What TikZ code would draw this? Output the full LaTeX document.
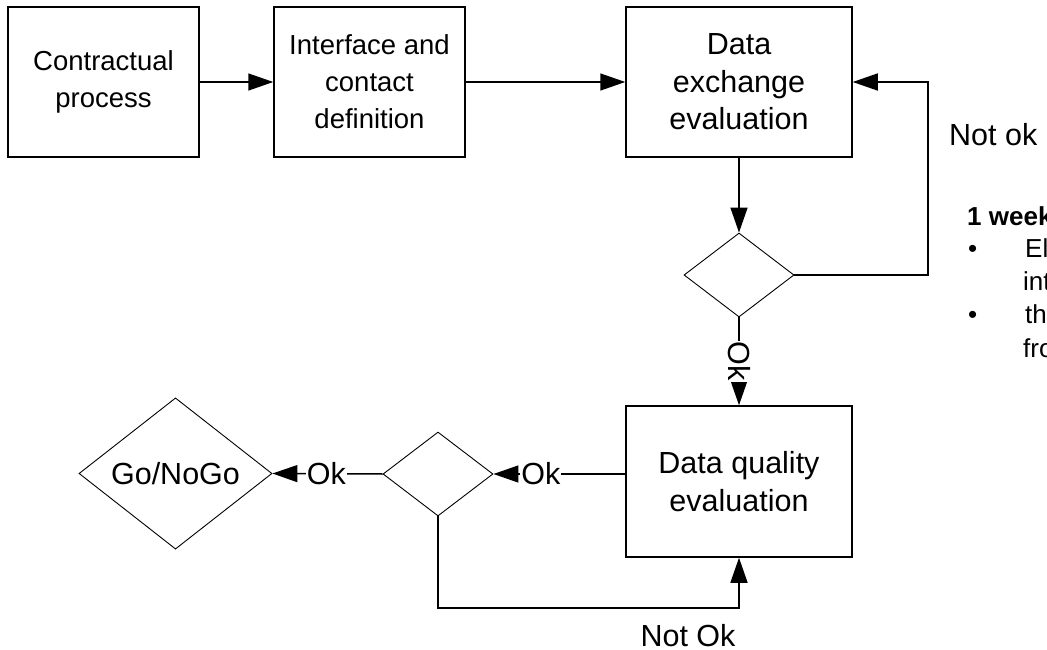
\documentclass[tikz,border=0pt]{standalone}
\usepackage{fontspec}
\setmainfont{Liberation Sans}
\usetikzlibrary{arrows.meta,shapes.geometric}
\newcommand\bigtxt{\fontsize{30.5}{37.5}\selectfont}
\newcommand\midtxt{\fontsize{27.5}{37}\selectfont}
\newcommand\smalltxt{\fontsize{26}{31}\selectfont}
\begin{document}
\begin{tikzpicture}[x=1pt,y=-1pt,
  box/.style={draw, line width=1.5pt, minimum height=150pt, align=center, inner sep=0pt, font=\bigtxt},
  dia/.style={draw, diamond, line width=0.9pt, inner sep=0pt, font=\bigtxt},
  arr/.style={line width=1.5pt, -{Triangle[length=25pt,width=17pt]}},
  lab/.style={fill=white, inner sep=1pt, font=\bigtxt},
  txt/.style={inner sep=0pt, anchor=base west}]
\useasboundingbox (0,0) rectangle (1047,650);
\clip (0,0) rectangle (1047,650);
\node[box, minimum width=191pt, font=\midtxt] (b1) at (103.5,82) {Contractual\\process};
\node[box, minimum width=191pt, font=\midtxt] (b2) at (369.5,82) {Interface and\\contact\\definition};
\node[box, minimum width=226pt] (b3) at (739,82) {Data\\exchange\\evaluation};
\node[dia, minimum width=110pt, minimum height=84pt] (d1) at (739,275) {};
\node[box, minimum width=226pt, minimum height=151pt] (b4) at (739,481.5) {Data quality\\evaluation};
\node[dia, minimum width=110pt, minimum height=84pt] (d2) at (438,474) {};
\node[dia, minimum width=193pt, minimum height=143pt] (g) at (175.5,473.5) {Go/NoGo};
\coordinate (nk) at (928,178);
\coordinate (bot) at (739,608);
\draw[arr] (b1) -- (b2);
\draw[arr] (b2) -- (b3);
\draw[arr] (b3) -- (d1);
\draw[arr] (d1.east) -| (nk) |- (b3.east);
\draw[arr] (d1.south) -- node[lab, rotate=-90] (ok1) {Ok} (b4.north);
\draw[arr] (b4.west |- d2.east) -- node[lab, pos=0.64] (ok2) {Ok} (d2.east);
\draw[arr] (d2.west) -- node[lab, pos=0.51] (ok3) {Ok} (g.east);
\draw[arr] (d2.south) |- (bot) -- (b4.south);
\node[font=\bigtxt, inner sep=0pt] (notok2) at (688,636) {Not Ok};
\node[font=\bigtxt, inner sep=0pt, anchor=west] (notok1) at (949,135) {Not ok};
\node[txt, font=\smalltxt\bfseries] (wk) at (967,225) {1 week};
\node[txt, font=\smalltxt] (bu1) at (968,257) {•};
\node[txt, font=\smalltxt] (t1) at (1025,257) {El};
\node[txt, font=\smalltxt] (t2) at (1023,290) {int};
\node[txt, font=\smalltxt] (bu2) at (968,323) {•};
\node[txt, font=\smalltxt] (t3) at (1025,323) {th};
\node[txt, font=\smalltxt] (t4) at (1023,357) {fro};
\end{tikzpicture}
\end{document}
